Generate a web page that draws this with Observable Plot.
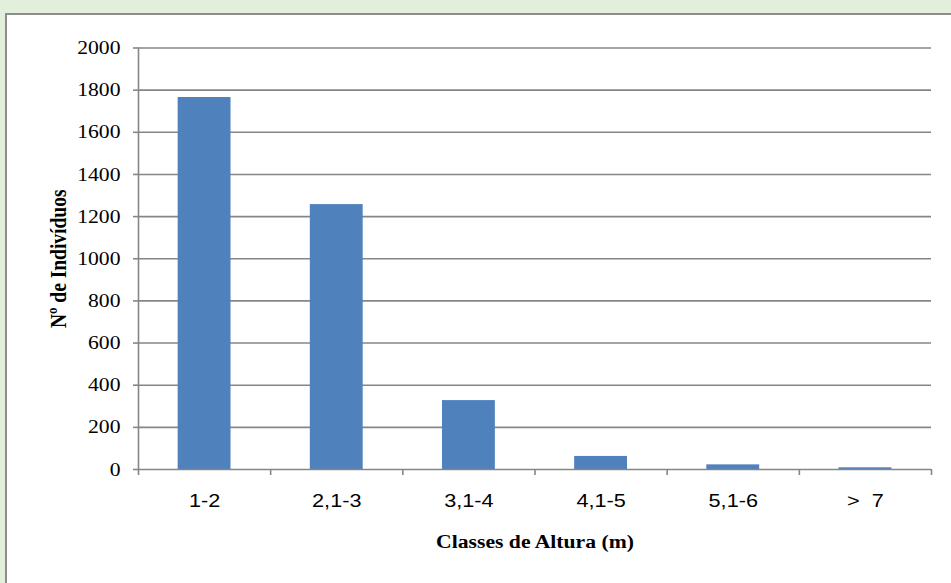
<!DOCTYPE html>
<html>
<head>
<meta charset="utf-8">
<script src="https://cdn.jsdelivr.net/npm/d3@7"></script>
<script src="https://cdn.jsdelivr.net/npm/@observablehq/plot@0.6"></script>
<style>
  html, body { margin: 0; padding: 0; }
  body { width: 951px; height: 583px; background: #e2efda; position: relative; overflow: hidden; }
  #panel { position: absolute; left: 5px; top: 13px; width: 960px; height: 600px; background: #fff; border: 2px solid #8c8c8c; box-sizing: border-box; }
  #chart { position: absolute; left: 0; top: 0; }
</style>
</head>
<body>
<div id="panel"></div>
<div id="chart"></div>
<script>
const categories = ["1-2", "2,1-3", "3,1-4", "4,1-5", "5,1-6", ">  7"];
const values = [1765, 1257, 327, 62, 22, 8];
const yTicks = [0, 200, 400, 600, 800, 1000, 1200, 1400, 1600, 1800, 2000];
const yTitle = "Nº de Indivíduos";
const xTitle = "Classes de Altura (m)";

const data = categories.map((c, i) => ({ i, c, v: values[i] }));
const gray = "#868686";
const serif = "Liberation Serif, Times New Roman, serif";
const sans = "Liberation Sans, Arial, sans-serif";

const chart = Plot.plot({
  width: 951,
  height: 583,
  marginLeft: 138,
  marginRight: 20,
  marginTop: 47.5,
  marginBottom: 114,
  style: { background: "transparent", overflow: "visible" },
  x: { type: "linear", domain: [0, categories.length] },
  y: { domain: [0, 2000] },
  marks: [
    Plot.ruleY(yTicks.filter(t => t > 0), { stroke: gray, strokeWidth: 1.6 }),
    Plot.rectY(data, {
      x1: d => d.i + 0.3,
      x2: d => d.i + 0.7,
      y1: 0,
      y2: "v",
      fill: "#4f81bd",
      inset: 0
    }),
    Plot.ruleY([0], { stroke: gray, strokeWidth: 1.6 }),
    Plot.ruleX([0], { y1: 0, y2: 2000, stroke: gray, strokeWidth: 1.6 }),
    Plot.axisY({
      ticks: yTicks,
      tickSize: 5,
      tickPadding: 13,
      tickFormat: d => String(d),
      stroke: gray,
      strokeWidth: 1.6,
      strokeOpacity: 1,
      fontSize: 19,
      fontFamily: serif,
      fill: "#000",
      label: null
    }),
    Plot.axisX({
      ticks: d3.range(0, categories.length + 1),
      tickSize: 6,
      tickFormat: () => "",
      stroke: gray,
      strokeWidth: 1.6,
      strokeOpacity: 1,
      label: null
    }),
    Plot.axisX({
      ticks: categories.map((c, i) => i + 0.5),
      tickSize: 0,
      tickPadding: 24,
      tickFormat: t => categories[Math.floor(t)],
      fontSize: 19,
      fontFamily: sans,
      fill: "#000",
      label: null
    }),
    Plot.text([yTitle], {
      frameAnchor: "left",
      textAnchor: "middle",
      lineAnchor: "middle",
      dx: -80,
      rotate: -90,
      fontSize: 19.5,
      fontWeight: "bold",
      fontFamily: serif,
      fill: "#000"
    }),
    Plot.text([xTitle], {
      frameAnchor: "bottom",
      textAnchor: "middle",
      lineAnchor: "middle",
      dy: 72,
      fontSize: 19,
      fontWeight: "bold",
      fontFamily: serif,
      fill: "#000"
    })
  ]
});

// The reference is horizontally stretched (~1.14x); apply the same stretch to text.
const SX = 1.14;
chart.querySelectorAll("text").forEach(t => {
  let tr = t.getAttribute("transform");
  if (!tr) {
    const x = +(t.getAttribute("x") || 0), y = +(t.getAttribute("y") || 0);
    t.removeAttribute("x"); t.removeAttribute("y");
    tr = `translate(${x},${y})`;
  }
  if (/rotate\(-90\)/.test(tr)) t.setAttribute("transform", tr + ` scale(1,${SX})`);
  else if (!/rotate/.test(tr)) t.setAttribute("transform", tr + ` scale(${SX},1)`);
});
document.getElementById("chart").appendChild(chart);
</script>
</body>
</html>
